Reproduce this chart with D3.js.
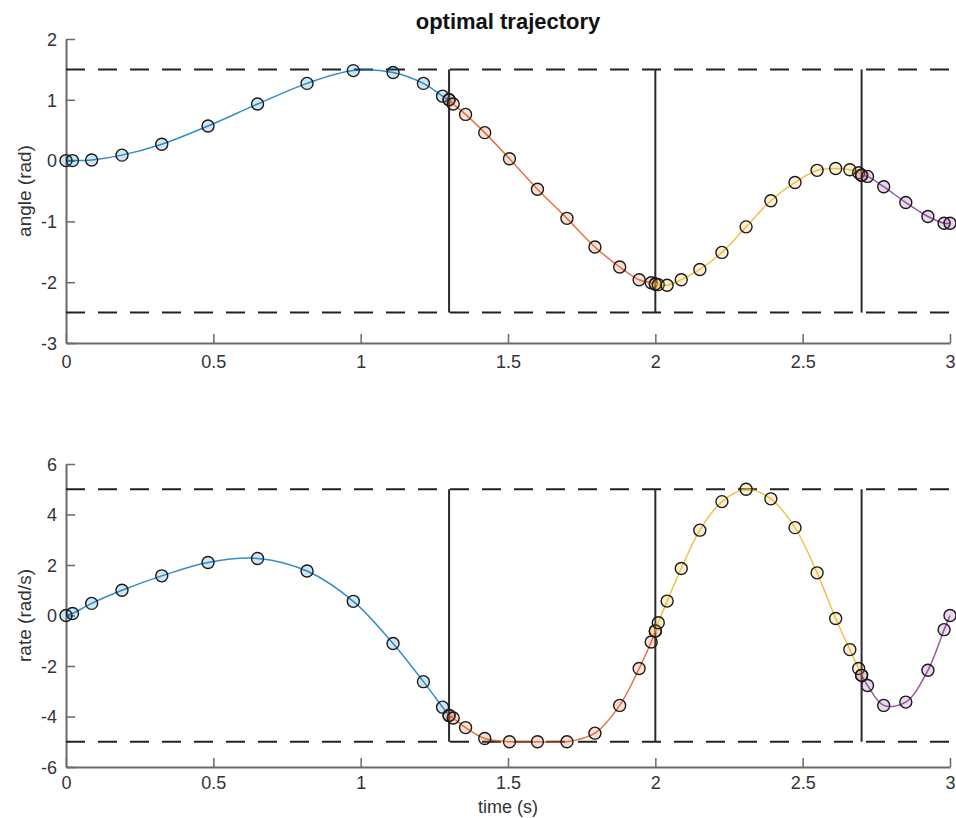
<!DOCTYPE html>
<html>
<head>
<meta charset="utf-8">
<script src="https://cdn.jsdelivr.net/npm/d3@7"></script>
<style>
  body { margin: 0; background: #fff; }
  svg { font-family: "Liberation Sans", Arial, Helvetica, sans-serif; }
</style>
</head>
<body>
<svg id="chart" width="956" height="818"></svg>
<script>
// ---- data ----
const phaseBounds = [0, 1.3, 2.0, 2.7, 3.0];
const phaseColors = ["#0072BD", "#D95319", "#EDB120", "#7E2F8E"];

const time1 = [0, 0.022, 0.087, 0.190, 0.325, 0.482, 0.650, 0.818, 0.975, 1.110, 1.213, 1.278, 1.300];
const angle1 = [0, 0, 0.01, 0.09, 0.27, 0.57, 0.93, 1.27, 1.48, 1.45, 1.27, 1.06, 1.00];
const rate1 = [0, 0.08, 0.48, 1.00, 1.57, 2.10, 2.26, 1.76, 0.56, -1.11, -2.62, -3.63, -3.96];

const time2 = [1.300, 1.314, 1.356, 1.421, 1.505, 1.600, 1.700, 1.795, 1.879, 1.945, 1.986, 2.000];
const angle2 = [1.00, 0.93, 0.76, 0.46, 0.03, -0.47, -0.95, -1.42, -1.75, -1.96, -2.01, -2.03];
const rate2 = [-3.96, -4.06, -4.44, -4.87, -5.00, -5.00, -5.00, -4.66, -3.56, -2.10, -1.05, -0.61];

const time3 = [2.000, 2.010, 2.040, 2.088, 2.151, 2.226, 2.308, 2.392, 2.474, 2.549, 2.612, 2.660, 2.690, 2.700];
const angle3 = [-2.03, -2.04, -2.05, -1.96, -1.79, -1.51, -1.09, -0.66, -0.36, -0.16, -0.13, -0.15, -0.20, -0.24];
const rate3 = [-0.61, -0.29, 0.57, 1.86, 3.38, 4.51, 5.00, 4.62, 3.48, 1.69, -0.12, -1.35, -2.10, -2.37];

const time4 = [2.700, 2.720, 2.775, 2.850, 2.925, 2.980, 3.000];
const angle4 = [-0.24, -0.26, -0.43, -0.69, -0.92, -1.03, -1.03];
const rate4 = [-2.37, -2.77, -3.56, -3.43, -2.17, -0.56, 0.00];

const xTicks = [0, 0.5, 1, 1.5, 2, 2.5, 3];
const angleTicks = [-3, -2, -1, 0, 1, 2];
const rateTicks = [-6, -4, -2, 0, 2, 4, 6];
const angleBounds = [-2.5, 1.5];
const rateBounds = [-5, 5];

const times = [time1, time2, time3, time4];
const angles = [angle1, angle2, angle3, angle4];
const rates = [rate1, rate2, rate3, rate4];

// ---- drawing ----
const svg = d3.select("#chart");
const left = 66, right = 950;
const axisColor = "#6a6a6a";
const textColor = "#333";
const tickFont = 18;
const labelFont = 19;

const x = d3.scaleLinear().domain([0, 3]).range([left, right]);
const fmt = d => String(d);

svg.append("text")
  .attr("x", (left + right) / 2).attr("y", 29)
  .attr("text-anchor", "middle")
  .attr("font-weight", "bold").attr("font-size", 22).attr("fill", "#111")
  .text("optimal trajectory");

function panel(cfg) {
  const y = d3.scaleLinear().domain(cfg.domain).range([cfg.bottom, cfg.top]);
  const g = svg.append("g");

  // axes
  const xAxis = d3.axisBottom(x).tickValues(xTicks).tickSizeInner(-9).tickSizeOuter(0)
    .tickFormat(fmt);
  const gx = g.append("g").attr("transform", `translate(0,${cfg.bottom})`).call(xAxis);
  const yAxis = d3.axisLeft(y).tickValues(cfg.ticks).tickSizeInner(-9).tickSizeOuter(0)
    .tickFormat(fmt);
  const gy = g.append("g").attr("transform", `translate(${left},0)`).call(yAxis);
  [gx, gy].forEach(a => {
    a.select(".domain").attr("stroke", axisColor).attr("stroke-width", 2);
    a.selectAll(".tick line").attr("stroke", axisColor).attr("stroke-width", 1.5);
    a.selectAll(".tick text").attr("fill", textColor).attr("font-size", tickFont)
      .attr("font-family", "Liberation Sans, Arial, sans-serif");
  });
  gx.selectAll(".tick text").attr("y", cfg.xTickOffset).attr("dy", "0.71em");
  gy.selectAll(".tick text").attr("x", -9).attr("dy", "0.35em");

  // bound lines (dashed)
  g.selectAll(".bound").data(cfg.bounds).enter().append("line")
    .attr("x1", x(0)).attr("x2", x(3))
    .attr("y1", d => y(d)).attr("y2", d => y(d))
    .attr("stroke", "#222").attr("stroke-width", 2)
    .attr("stroke-dasharray", "19,13");

  // phase boundary lines
  g.selectAll(".pb").data(phaseBounds.slice(1, 4)).enter().append("line")
    .attr("x1", d => x(d)).attr("x2", d => x(d))
    .attr("y1", y(cfg.bounds[0])).attr("y2", y(cfg.bounds[1]))
    .attr("stroke", "#2a2a2a").attr("stroke-width", 2);

  const line = d3.line().x(d => x(d[0])).y(d => y(d[1])).curve(d3.curveCatmullRom.alpha(0.5));

  cfg.series.forEach((vals, i) => {
    const pts = times[i].map((t, j) => [t, vals[j]]);
    g.append("path").datum(pts)
      .attr("d", line).attr("fill", "none")
      .attr("stroke", phaseColors[i]).attr("stroke-width", 1.5).attr("stroke-opacity", 0.8);
    g.selectAll(null).data(pts).enter().append("circle")
      .attr("cx", d => x(d[0])).attr("cy", d => y(d[1])).attr("r", 6)
      .attr("fill", phaseColors[i]).attr("fill-opacity", 0.18)
      .attr("stroke", "#1a1a1a").attr("stroke-width", 1.4);
  });

  // y label
  svg.append("text")
    .attr("transform", `translate(${cfg.labelX},${(cfg.top + cfg.bottom) / 2}) rotate(-90)`)
    .attr("text-anchor", "middle").attr("font-size", labelFont).attr("fill", textColor)
    .text(cfg.label);
}

panel({ domain: [-3, 2], top: 39, bottom: 343, ticks: angleTicks, bounds: angleBounds,
        series: angles, label: "angle (rad)", labelX: 31, xTickOffset: 12 });
panel({ domain: [-6, 6], top: 464, bottom: 767, ticks: rateTicks, bounds: rateBounds,
        series: rates, label: "rate (rad/s)", labelX: 31, xTickOffset: 9 });

svg.append("text")
  .attr("x", (left + right) / 2).attr("y", 813)
  .attr("text-anchor", "middle").attr("font-size", 18).attr("fill", textColor)
  .text("time (s)");
</script>
</body>
</html>
